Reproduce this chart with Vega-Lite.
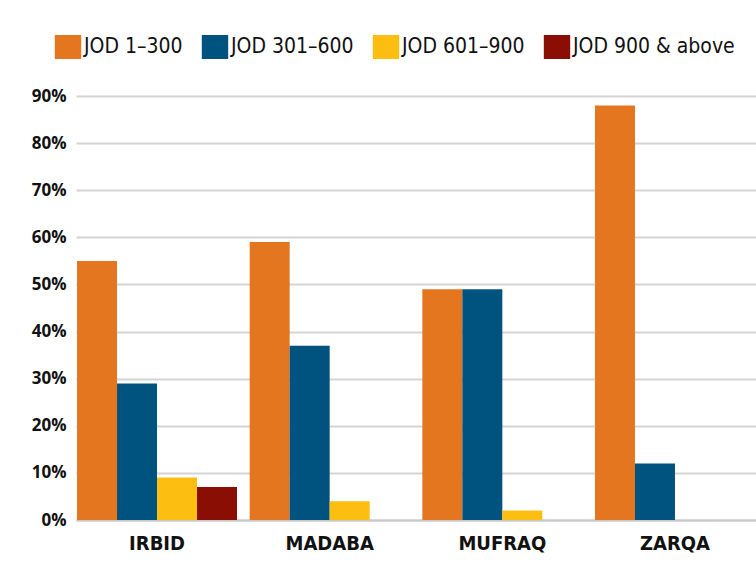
{
  "$schema": "https://vega.github.io/schema/vega-lite/v6.json",
  "width": 680,
  "height": 424,
  "autosize": {"type": "none"},
  "padding": {"left": 76, "top": 96, "right": 0, "bottom": 50},
  "background": "white",
  "config": {"view": {"stroke": null}},
  "data": {
    "values": [
      {"city": "IRBID", "band": "JOD 1–300", "pct": 55},
      {"city": "IRBID", "band": "JOD 301–600", "pct": 29},
      {"city": "IRBID", "band": "JOD 601–900", "pct": 9},
      {"city": "IRBID", "band": "JOD 900 & above", "pct": 7},
      {"city": "MADABA", "band": "JOD 1–300", "pct": 59},
      {"city": "MADABA", "band": "JOD 301–600", "pct": 37},
      {"city": "MADABA", "band": "JOD 601–900", "pct": 4},
      {"city": "MADABA", "band": "JOD 900 & above", "pct": 0},
      {"city": "MUFRAQ", "band": "JOD 1–300", "pct": 49},
      {"city": "MUFRAQ", "band": "JOD 301–600", "pct": 49},
      {"city": "MUFRAQ", "band": "JOD 601–900", "pct": 2},
      {"city": "MUFRAQ", "band": "JOD 900 & above", "pct": 0},
      {"city": "ZARQA", "band": "JOD 1–300", "pct": 88},
      {"city": "ZARQA", "band": "JOD 301–600", "pct": 12},
      {"city": "ZARQA", "band": "JOD 601–900", "pct": 0},
      {"city": "ZARQA", "band": "JOD 900 & above", "pct": 0}
    ]
  },
  "mark": {"type": "bar"},
  "encoding": {
    "x": {
      "field": "city",
      "type": "nominal",
      "sort": ["IRBID", "MADABA", "MUFRAQ", "ZARQA"],
      "scale": {"paddingInner": 0.0734, "paddingOuter": 0.006},
      "axis": {
        "title": null,
        "labelAngle": 0,
        "ticks": false,
        "domainColor": "#c8c8c8",
        "domainWidth": 2,
        "labelFont": "Liberation Sans Narrow, DejaVu Sans Condensed, sans-serif",
        "labelFontWeight": "bold",
        "labelFontSize": 20,
        "labelColor": "#111111",
        "labelPadding": 13
      }
    },
    "xOffset": {
      "field": "band",
      "type": "nominal",
      "sort": ["JOD 1–300", "JOD 301–600", "JOD 601–900", "JOD 900 & above"],
      "scale": {"paddingInner": 0, "paddingOuter": 0}
    },
    "y": {
      "field": "pct",
      "type": "quantitative",
      "scale": {"domain": [0, 90]},
      "axis": {
        "title": null,
        "values": [0, 10, 20, 30, 40, 50, 60, 70, 80, 90],
        "labelExpr": "datum.value + '%'",
        "ticks": false,
        "domain": false,
        "gridColor": "#d4d4d4",
        "gridWidth": 2,
        "labelFont": "Open Sans",
        "labelFontWeight": "bold",
        "labelFontSize": 17,
        "labelColor": "#111111",
        "labelPadding": 10
      }
    },
    "color": {
      "field": "band",
      "type": "nominal",
      "sort": ["JOD 1–300", "JOD 301–600", "JOD 601–900", "JOD 900 & above"],
      "scale": {
        "domain": ["JOD 1–300", "JOD 301–600", "JOD 601–900", "JOD 900 & above"],
        "range": ["#E4761F", "#00527F", "#FDBE12", "#8B0E04"]
      },
      "legend": {
        "title": null,
        "orient": "none",
        "direction": "horizontal",
        "legendX": -20,
        "legendY": -61,
        "symbolType": "M-1.1,-1H1.1V1H-1.1Z",
        "symbolSize": 576,
        "symbolStrokeWidth": 0,
        "symbolOpacity": 1,
        "labelFont": "Liberation Sans Narrow, DejaVu Sans Condensed, sans-serif",
        "labelFontSize": 21,
        "labelColor": "#111111",
        "labelOffset": 4,
        "columnPadding": 18,
        "labelLimit": 300
      }
    }
  }
}
